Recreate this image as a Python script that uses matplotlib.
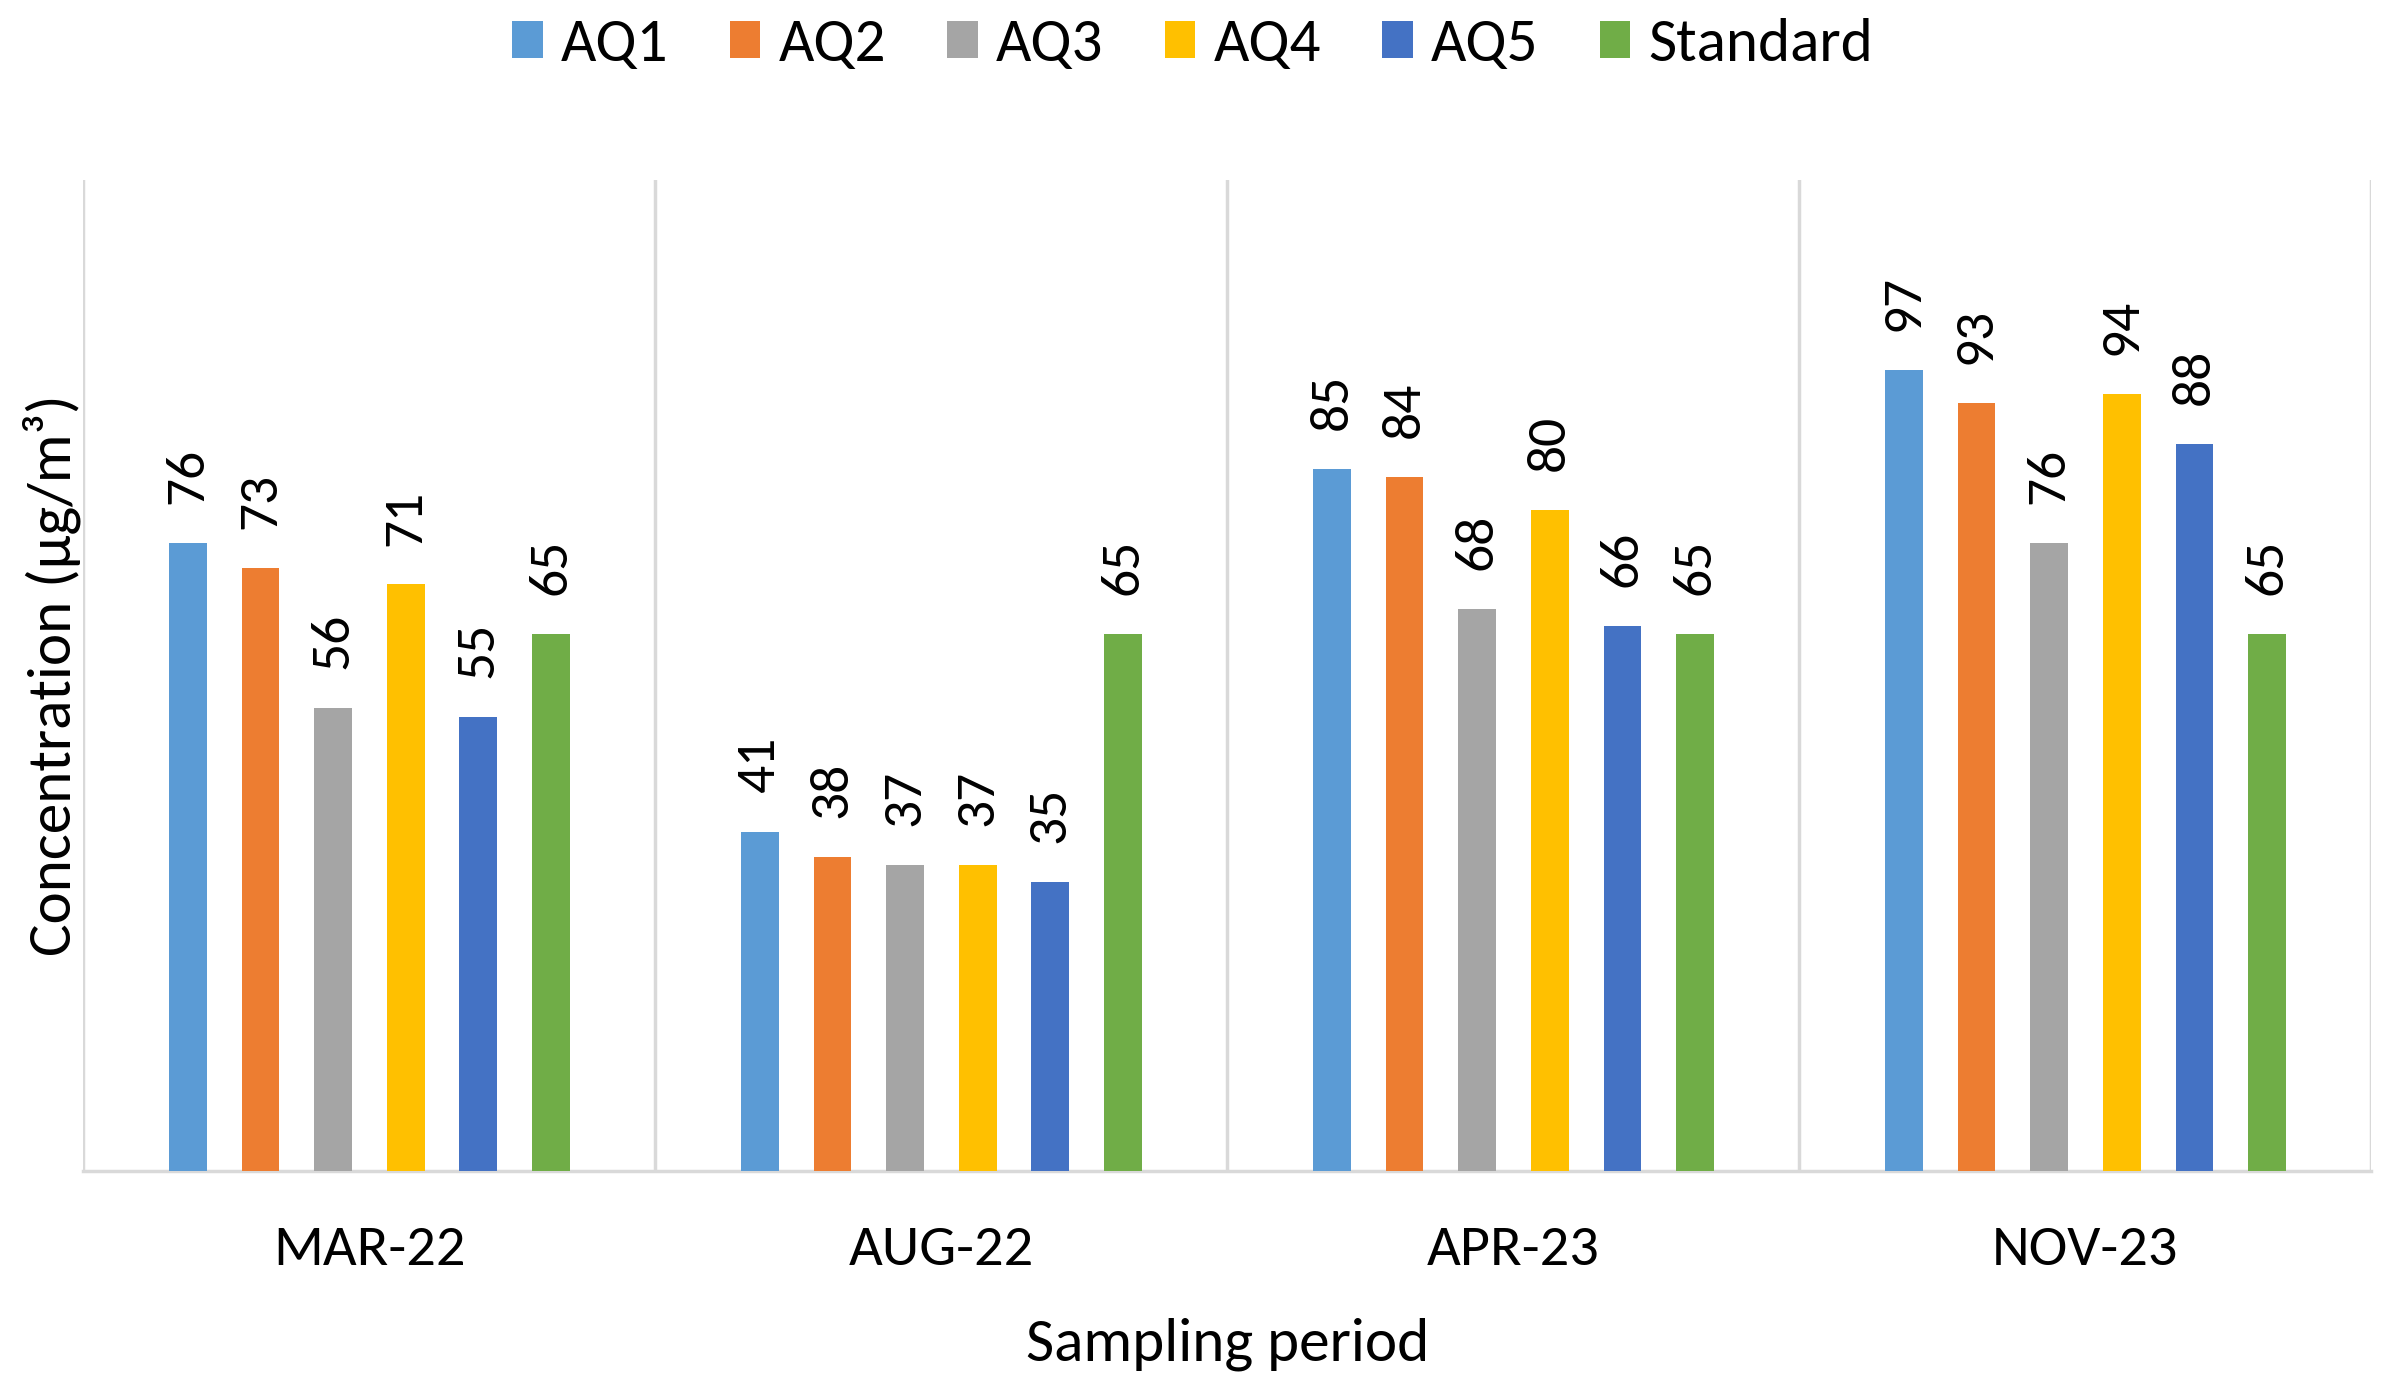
import numpy as np
import matplotlib.pyplot as plt

periods = ['MAR-22', 'AUG-22', 'APR-23', 'NOV-23']
series = ['AQ1', 'AQ2', 'AQ3', 'AQ4', 'AQ5', 'Standard']
aq1 = [76, 41, 85, 97]
aq2 = [73, 38, 84, 93]
aq3 = [56, 37, 68, 76]
aq4 = [71, 37, 80, 94]
aq5 = [55, 35, 66, 88]
standard = [65, 65, 65, 65]
colors = ['#5B9BD5', '#ED7D31', '#A5A5A5', '#FFC000', '#4472C4', '#70AD47']

plt.rcParams['font.family'] = ['Carlito', 'DejaVu Sans']

fig = plt.figure(figsize=(23.81, 13.81), dpi=100)
ax = fig.add_axes([0.035, 0.152, 0.961, 0.718])

x = np.arange(len(periods))
step = 0.127
width = 0.066
data = [aq1, aq2, aq3, aq4, aq5, standard]
for i, (name, vals) in enumerate(zip(series, data)):
    pos = x + (i - 2.5) * step
    bars = ax.bar(pos, vals, width, color=colors[i], label=name, zorder=3)
    for b, v in zip(bars, vals):
        ax.annotate(str(v), (b.get_x() + b.get_width() / 2, v),
                    xytext=(0, 28), textcoords='offset points',
                    rotation=90, ha='center', va='bottom', fontsize=40)

ax.set_xlim(-0.5, 3.5)
ax.set_ylim(0, 120)
for b in np.arange(-0.5, 4, 1):
    ax.axvline(b, color='#D9D9D9', lw=2.5, zorder=1)
for s in ['top', 'right', 'left']:
    ax.spines[s].set_visible(False)
ax.spines['bottom'].set_color('#D9D9D9')
ax.spines['bottom'].set_linewidth(2.5)
ax.set_yticks([])
ax.set_xticks(x)
ax.set_xticklabels(periods, fontsize=42)
ax.tick_params(axis='x', length=0, pad=39)
ax.set_xlabel('Sampling period', fontsize=44, labelpad=31)
ax.set_ylabel('Concentration (µg/m³)', fontsize=44, labelpad=2)

fig.legend(loc='upper center', ncol=6, frameon=False, fontsize=44,
           bbox_to_anchor=(0.501, 1.027), handlelength=0.5, handleheight=0.55,
           handletextpad=0.3, columnspacing=1.0)

fig.savefig('out.png', dpi=100)
